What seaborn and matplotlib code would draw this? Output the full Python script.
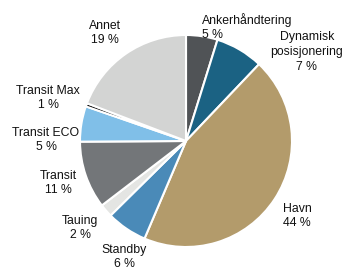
import matplotlib
matplotlib.use('Agg')
import matplotlib.pyplot as plt
import seaborn as sns

# Data
segments = ['Ankerhåndtering', 'Dynamisk\nposisjonering', 'Havn', 'Standby', 'Tauing',
            'Transit', 'Transit ECO', 'Transit Max', 'Annet']
shares = [4.8, 7.3, 44.3, 6.2, 2.0, 10.3, 5.4, 0.5, 19.2]
pct_labels = ['5 %', '7 %', '44 %', '6 %', '2 %', '11 %', '5 %', '1 %', '19 %']
colors = ['#505356', '#1b6283', '#b39b6b', '#4a8ab8', '#e4e5e3',
          '#737679', '#80bfe8', '#111111', '#d3d4d3']

sns.set_style('white')
plt.rcParams['font.family'] = ['Liberation Sans', 'DejaVu Sans']

W, H = 344, 273
fig = plt.figure(figsize=(W / 100, H / 100), dpi=100)
ax = fig.add_axes([0, 0, 1, 1])

cx, cy, r = 186, H - 141, 106
ax.pie(shares, colors=colors, startangle=90, counterclock=False,
       center=(cx, cy), radius=r, frame=True,
       wedgeprops=dict(edgecolor='white', linewidth=1.5))

# label anchor points (pixel coords, top-left origin)
label_pos = [(202, 27, 'left'), (307, 52, 'center'), (297, 216, 'center'),
             (124, 257, 'center'), (80, 228, 'center'), (58, 183, 'center'),
             (46, 140, 'center'), (48, 98, 'center'), (105, 33, 'center')]
for name, pct, (px, py, ha) in zip(segments, pct_labels, label_pos):
    ax.text(px, H - py, f'{name}\n{pct}', ha=ha, va='center', fontsize=8.8,
            color='#111111', linespacing=1.3)

ax.set_xlim(0, W)
ax.set_ylim(0, H)
ax.set_aspect('equal')
ax.axis('off')
fig.savefig('out.png', dpi=100)
